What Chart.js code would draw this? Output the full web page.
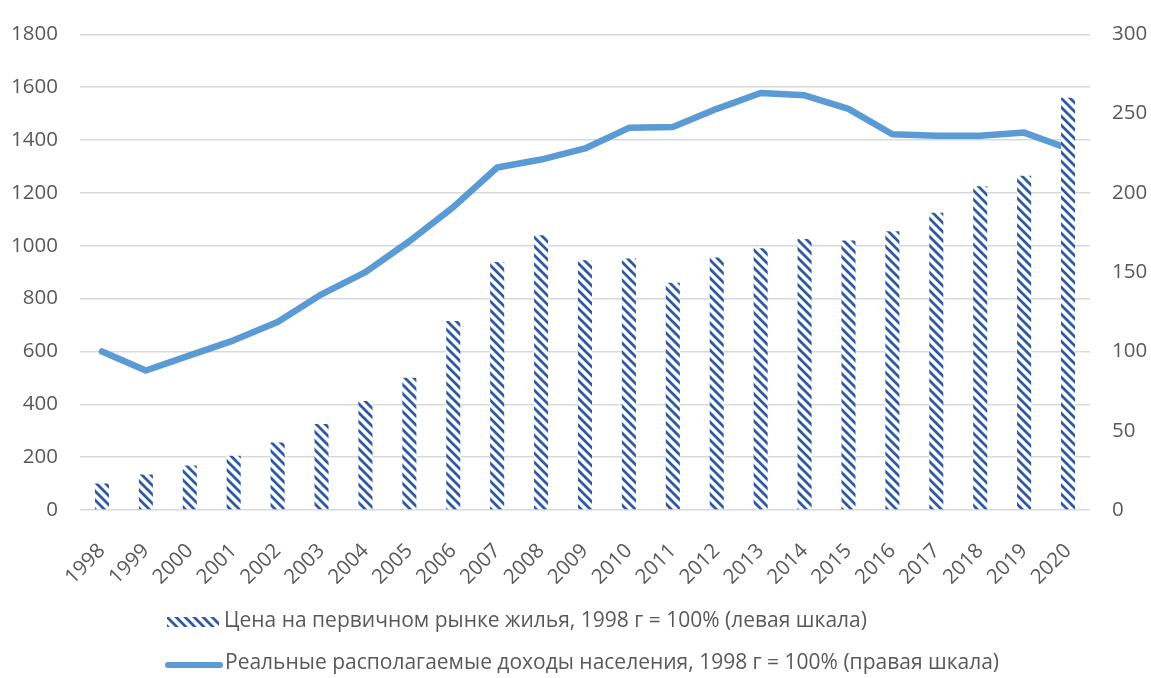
<!DOCTYPE html>
<html>
<head>
<meta charset="utf-8">
<script src="https://cdn.jsdelivr.net/npm/chart.js@4"></script>
<style>
  html, body { margin: 0; padding: 0; background: #fff; }
  #wrap { width: 1151px; height: 678px; position: relative; }
</style>
</head>
<body>
<div id="wrap"><canvas id="chart"></canvas></div>
<script>
const years = ['1998', '1999', '2000', '2001', '2002', '2003', '2004', '2005', '2006', '2007', '2008', '2009',
    '2010', '2011', '2012', '2013', '2014', '2015', '2016', '2017', '2018', '2019', '2020'];
// price on primary housing market, 1998 = 100% (left axis)
const housePrice = [100, 134, 168, 205, 255, 325, 412, 500, 715, 938, 1040, 945,
    952, 860, 955, 990, 1025, 1020, 1055, 1125, 1225, 1265, 1560];
// real disposable income, 1998 = 100% (right axis)
const realIncome = [100, 88, 97.5, 107, 118.5, 136, 150, 169.5, 191, 216, 221, 228,
    241, 241.5, 253, 263, 261.5, 253, 237, 236, 236, 238, 228];
const leftTicks = [0, 200, 400, 600, 800, 1000, 1200, 1400, 1600, 1800];
const rightTicks = [0, 50, 100, 150, 200, 250, 300];
const legendLabels = [
    'Цена на первичном рынке жилья, 1998 г = 100% (левая шкала)',
    'Реальные располагаемые доходы населения, 1998 г = 100% (правая шкала)'
];

const textColor = '#595959';
const stripeColor = '#2f5aa3';
const lineColor = '#5b9bd5';

function makeStripes() {
    const n = 9;
    const c = document.createElement('canvas');
    c.width = n;
    c.height = n;
    const g = c.getContext('2d');
    g.fillStyle = '#fff';
    g.fillRect(0, 0, n, n);
    g.strokeStyle = stripeColor;
    g.lineWidth = 2.8;
    g.beginPath();
    g.moveTo(-2, -2); g.lineTo(n + 2, n + 2);
    g.moveTo(-n - 2, -2); g.lineTo(2, n + 2);
    g.moveTo(n - 2, -2); g.lineTo(2 * n + 2, n + 2);
    g.stroke();
    return g.createPattern(c, 'repeat');
}
const stripes = makeStripes();

// legend drawn by hand so both rows start at the same x like the original
const customLegend = {
    id: 'customLegend',
    afterDraw(chart) {
        const ctx = chart.ctx;
        ctx.save();
        ctx.font = '21px "Open Sans"';
        ctx.textBaseline = 'middle';
        // bar swatch
        ctx.fillStyle = stripes;
        ctx.fillRect(167, 617, 52, 10);
        ctx.fillStyle = textColor;
        ctx.fillText(legendLabels[0], 224, 621);
        // line swatch
        ctx.strokeStyle = lineColor;
        ctx.lineWidth = 6;
        ctx.lineCap = 'round';
        ctx.beginPath();
        ctx.moveTo(168, 665);
        ctx.lineTo(220, 665);
        ctx.stroke();
        ctx.fillText(legendLabels[1], 225, 663);
        ctx.restore();
    }
};

Chart.defaults.font.family = '"Open Sans", sans-serif';
Chart.defaults.color = textColor;

const plain = v => String(v);

const ctx = document.getElementById('chart').getContext('2d');
new Chart(ctx, {
    data: {
        labels: years,
        datasets: [{
            type: 'bar',
            label: legendLabels[0],
            data: housePrice,
            backgroundColor: stripes,
            borderWidth: 0,
            barPercentage: 0.32,
            categoryPercentage: 1,
            yAxisID: 'y',
            order: 0
        }, {
            type: 'line',
            label: legendLabels[1],
            data: realIncome,
            borderColor: lineColor,
            borderWidth: 6.5,
            borderJoinStyle: 'round',
            borderCapStyle: 'round',
            pointRadius: 0,
            tension: 0,
            fill: false,
            yAxisID: 'y1',
            order: 1
        }]
    },
    options: {
        responsive: true,
        maintainAspectRatio: false,
        animation: false,
        layout: { padding: { top: 27, bottom: 70, left: 0, right: 0 } },
        plugins: {
            legend: { display: false },
            tooltip: { enabled: false }
        },
        scales: {
            x: {
                grid: { display: false },
                border: { display: false },
                ticks: { font: { size: 20.5 }, minRotation: 45, maxRotation: 45, padding: 21 },
                afterFit: function (s) { s.height = 98; }
            },
            y: {
                position: 'left',
                min: 0,
                max: 1800,
                afterBuildTicks: function (s) { s.ticks = leftTicks.map(v => ({ value: v })); },
                grid: { color: '#d9d9d9', lineWidth: 1.5, drawTicks: false },
                border: { display: false },
                ticks: { font: { size: 20.5 }, padding: 22, callback: plain },
                afterFit: function (s) { s.width = 80; }
            },
            y1: {
                position: 'right',
                min: 0,
                max: 300,
                afterBuildTicks: function (s) { s.ticks = rightTicks.map(v => ({ value: v })); },
                grid: { display: false, drawTicks: false },
                border: { display: false },
                ticks: { font: { size: 20.5 }, padding: 22, callback: plain },
                afterFit: function (s) { s.width = 61; }
            }
        }
    },
    plugins: [customLegend]
});
</script>
</body>
</html>
